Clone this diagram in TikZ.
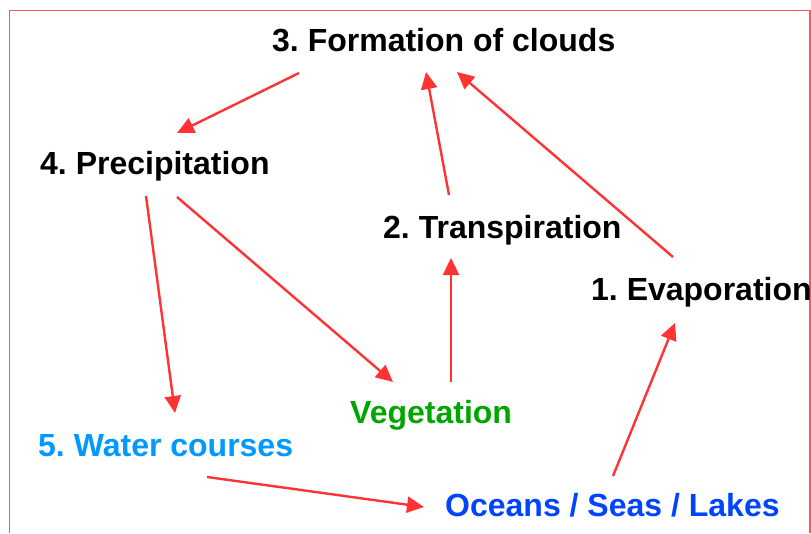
\documentclass[tikz,border=0pt]{standalone}
\usepackage{fontspec}
\setmainfont{Liberation Sans}
\usetikzlibrary{arrows.meta}
\definecolor{arrowred}{RGB}{255,51,51}
\definecolor{borderred}{RGB}{255,85,85}
\definecolor{veggreen}{RGB}{0,166,0}
\definecolor{waterblue}{RGB}{0,153,255}
\definecolor{oceanblue}{RGB}{0,68,255}
\frenchspacing
\begin{document}
\begin{tikzpicture}[x=1pt,y=-1pt,
  lbl/.style={anchor=base west, inner sep=0pt, font=\fontsize{32}{38}\selectfont\bfseries},
  flow/.style={draw=arrowred, line width=2.4pt, -{Triangle[length=17pt,width=16pt]}}]
\useasboundingbox (0,0) rectangle (811,533);
\draw[draw=borderred, line width=1.5pt] (9.5,533) -- (9.5,10.5) -- (810,10.5) -- (810,533);

\node[lbl] (clouds) at (272,51) {\frenchspacing 3. Formation of clouds};
\node[lbl] (precip) at (40,174) {\frenchspacing 4. Precipitation};
\node[lbl] (transp) at (383,238) {\frenchspacing 2. Transpiration};
\node[lbl] (evap) at (591,300) {\frenchspacing 1. Evaporation};
\node[lbl, text=veggreen] (veg) at (350,423) {Vegetation};
\node[lbl, text=waterblue] (water) at (38,456) {\frenchspacing 5. Water courses};
\node[lbl, text=oceanblue] (ocean) at (445,516) {Oceans / Seas / Lakes};

% connector end points
\coordinate (cloudsOutL) at (299,73);
\coordinate (precipIn) at (177,133);
\coordinate (cloudsInT) at (426,72);
\coordinate (transpOut) at (449,195);
\coordinate (cloudsInE) at (457,72);
\coordinate (evapOut) at (673,257);
\coordinate (precipOutW) at (146,196);
\coordinate (waterIn) at (175,413);
\coordinate (precipOutV) at (177,197);
\coordinate (vegIn) at (393,382);
\coordinate (waterOut) at (207,477);
\coordinate (oceanIn) at (424,507);
\coordinate (oceanOut) at (613,476);
\coordinate (evapIn) at (675,323);
\coordinate (vegOut) at (451,382);
\coordinate (transpIn) at (451,258);

\draw[flow] (cloudsOutL) -- (precipIn);
\draw[flow] (transpOut) -- (cloudsInT);
\draw[flow] (evapOut) -- (cloudsInE);
\draw[flow] (precipOutW) -- (waterIn);
\draw[flow] (precipOutV) -- (vegIn);
\draw[flow] (waterOut) -- (oceanIn);
\draw[flow] (oceanOut) -- (evapIn);
\draw[flow] (vegOut) -- (transpIn);
\end{tikzpicture}
\end{document}
